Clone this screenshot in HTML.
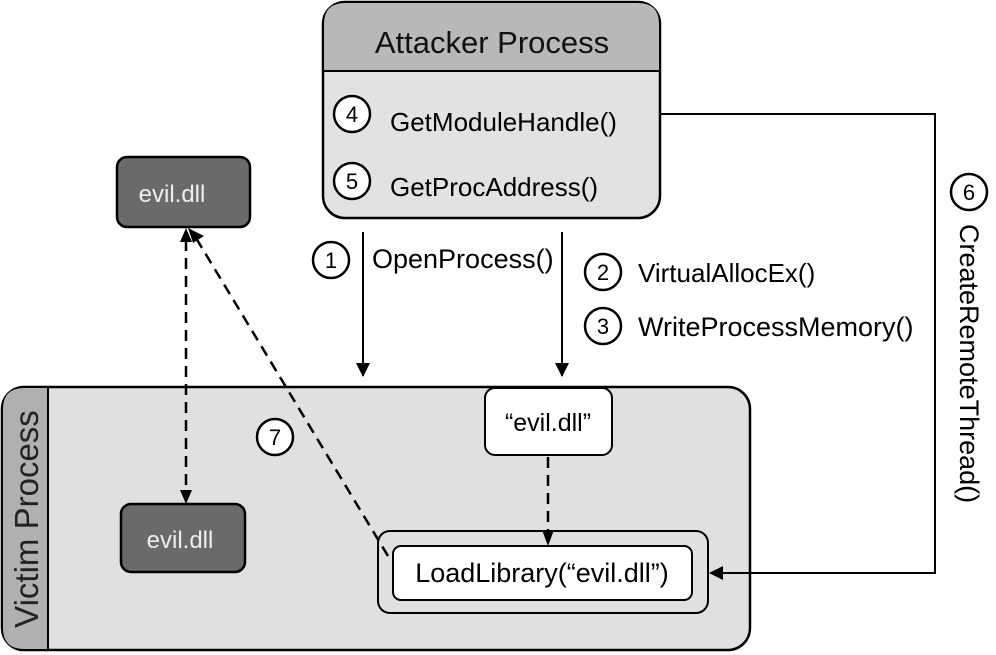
<!DOCTYPE html>
<html><head><meta charset="utf-8"><style>
html,body{margin:0;padding:0;background:#fff;}
svg{display:block;font-family:"Liberation Sans",Arial,sans-serif;}
</style></head><body>
<svg width="996" height="655" viewBox="0 0 996 655" xmlns="http://www.w3.org/2000/svg">
<defs>
<marker id="ah" markerWidth="14" markerHeight="14" refX="13" refY="7" orient="auto" markerUnits="userSpaceOnUse">
<path d="M0,0 L14,7 L0,14 Z" fill="#000"/>
</marker>
</defs>
<rect x="2" y="387" width="748" height="263" rx="22" fill="#e0e0e0" stroke="#000" stroke-width="2.5"/>
<path d="M48,388 L24,388 Q3,388 3,409 L3,628 Q3,649 24,649 L48,649 Z" fill="#b0b0b0"/>
<line x1="48" y1="387" x2="48" y2="650" stroke="#000" stroke-width="2"/>
<text transform="translate(38,519) rotate(-90)" text-anchor="middle" font-size="33" fill="#222">Victim Process</text>

<rect x="323" y="2" width="337" height="216" rx="22" fill="#e2e2e2" stroke="#000" stroke-width="2.5"/>
<path d="M324,71 L324,24 Q324,3 345,3 L638,3 Q659,3 659,24 L659,71 Z" fill="#b8b8b8"/>
<line x1="323" y1="71" x2="660" y2="71" stroke="#000" stroke-width="2"/>
<text x="492" y="53" text-anchor="middle" font-size="31" fill="#111">Attacker Process</text>
<circle cx="352" cy="114" r="18" fill="#fff" stroke="#000" stroke-width="2.5"/>
<text x="352" y="122" text-anchor="middle" font-size="22">4</text>
<text x="390" y="131" font-size="26">GetModuleHandle()</text>
<circle cx="352" cy="181" r="18" fill="#fff" stroke="#000" stroke-width="2.5"/>
<text x="352" y="189" text-anchor="middle" font-size="22">5</text>
<text x="390" y="196" font-size="26">GetProcAddress()</text>

<rect x="117" y="157" width="133" height="70" rx="10" fill="#6a6a6a" stroke="#000" stroke-width="2.5"/>
<text x="172" y="202" text-anchor="middle" font-size="24" fill="#eee">evil.dll</text>

<rect x="121" y="504" width="124" height="68" rx="10" fill="#6a6a6a" stroke="#000" stroke-width="2.5"/>
<text x="180" y="548" text-anchor="middle" font-size="24" fill="#eee">evil.dll</text>

<rect x="485" y="388" width="127" height="67" rx="10" fill="#fff" stroke="#000" stroke-width="2"/>
<text x="548" y="431" text-anchor="middle" font-size="25">“evil.dll”</text>

<rect x="378" y="531" width="330" height="82" rx="12" fill="#e0e0e0" stroke="#000" stroke-width="2"/>
<rect x="393" y="546" width="299" height="54" rx="8" fill="#fff" stroke="#000" stroke-width="2"/>
<text x="542" y="582" text-anchor="middle" font-size="27">LoadLibrary(“evil.dll”)</text>

<line x1="363" y1="232" x2="363" y2="376" stroke="#000" stroke-width="2" marker-end="url(#ah)"/>
<circle cx="331" cy="260" r="18" fill="#fff" stroke="#000" stroke-width="2.5"/>
<text x="331" y="268" text-anchor="middle" font-size="22">1</text>
<text x="372" y="268" font-size="27">OpenProcess()</text>
<line x1="562" y1="232" x2="562" y2="376" stroke="#000" stroke-width="2" marker-end="url(#ah)"/>
<circle cx="603" cy="272" r="18" fill="#fff" stroke="#000" stroke-width="2.5"/>
<text x="603" y="280" text-anchor="middle" font-size="22">2</text>
<text x="638" y="282" font-size="26">VirtualAllocEx()</text>
<circle cx="603" cy="326" r="18" fill="#fff" stroke="#000" stroke-width="2.5"/>
<text x="603" y="334" text-anchor="middle" font-size="22">3</text>
<text x="638" y="336" font-size="27">WriteProcessMemory()</text>

<polyline points="660,114 935,114 935,573 710,573" fill="none" stroke="#000" stroke-width="2" marker-end="url(#ah)"/>
<circle cx="969" cy="192" r="18" fill="#fff" stroke="#000" stroke-width="2.5"/>
<text x="969" y="200" text-anchor="middle" font-size="22">6</text>
<text transform="translate(960,224) rotate(90)" font-size="27">CreateRemoteThread()</text>

<line x1="186" y1="240" x2="186" y2="491" stroke="#000" stroke-width="2.5" stroke-dasharray="11,7"/>
<path d="M180,242 L186,228 L192,242 Z" fill="#000"/>
<path d="M180,490 L186,504 L192,490 Z" fill="#000"/>
<line x1="388" y1="556" x2="196" y2="238" stroke="#000" stroke-width="2.5" stroke-dasharray="11,7"/>
<path d="M188,228 L204,236 L193,243 Z" fill="#000"/>
<circle cx="275" cy="437" r="18" fill="#fff" stroke="#000" stroke-width="2.5"/>
<text x="275" y="445" text-anchor="middle" font-size="22">7</text>
<line x1="548" y1="457" x2="548" y2="531" stroke="#000" stroke-width="2.5" stroke-dasharray="11,7"/>
<path d="M542,530 L548,546 L554,530 Z" fill="#000"/>
</svg>
</body></html>
